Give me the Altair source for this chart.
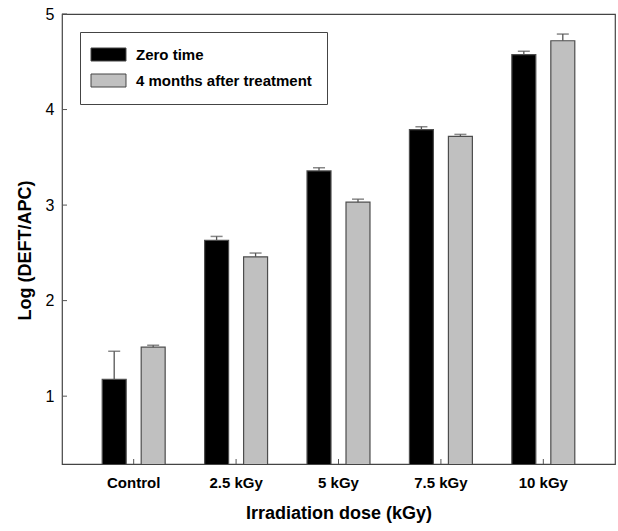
import altair as alt
import pandas as pd

doses = ["Control", "2.5 kGy", "5 kGy", "7.5 kGy", "10 kGy"]
series = ["Zero time", "4 months after treatment"]
zero_time = [1.175, 2.632, 3.358, 3.79, 4.574]
zero_err = [0.295, 0.04, 0.033, 0.03, 0.036]
four_months = [1.513, 2.458, 3.03, 3.72, 4.72]
four_err = [0.02, 0.04, 0.032, 0.02, 0.07]
y_ticks = [1, 2, 3, 4, 5]

rows = []
for i, d in enumerate(doses):
    rows.append({"dose": d, "series": series[0], "value": zero_time[i], "top": zero_time[i] + zero_err[i]})
    rows.append({"dose": d, "series": series[1], "value": four_months[i], "top": four_months[i] + four_err[i]})
df = pd.DataFrame(rows)
cat_df = pd.DataFrame({"dose": doses})
tick_df = pd.DataFrame({"t": y_ticks})

W, H = 553, 450
FONT = "Liberation Sans"

x_scale = alt.Scale(domain=doses, paddingInner=0, paddingOuter=0.2)
y_scale = alt.Scale(domain=[0.29, 5], nice=False, zero=False)
off_scale = alt.Scale(domain=series, paddingInner=0.385, paddingOuter=0.506)

x_enc = alt.X("dose:N", scale=x_scale, sort=doses,
              axis=alt.Axis(title="Irradiation dose (kGy)", labelAngle=0, ticks=False, domain=False,
                            labelFont=FONT, labelFontSize=15, labelFontWeight="bold", labelColor="#000",
                            labelPadding=11, titleFont=FONT, titleFontSize=18, titleFontWeight="bold",
                            titleColor="#000", titlePadding=14))
y_enc = alt.Y("value:Q", scale=y_scale,
              axis=alt.Axis(title="Log (DEFT/APC)", values=y_ticks, format="d", ticks=False, domain=False,
                            grid=False, labelFont=FONT, labelFontSize=16, labelColor="#000", labelPadding=8,
                            titleFont=FONT, titleFontSize=18, titleFontWeight="bold", titleColor="#000",
                            titleX=-37, titleY=236, titleAlign="center", titleBaseline="middle", titleAngle=270))

color = alt.Color("series:N", scale=alt.Scale(domain=series, range=["#000000", "#c0c0c0"]),
                  legend=alt.Legend(title=None, orient="none", legendX=18, legendY=18,
                                    symbolType="M-2.69,-1L2.69,-1L2.69,1L-2.69,1Z", symbolSize=169,
                                    symbolOffset=6, symbolStrokeColor="#444444", symbolStrokeWidth=1,
                                    labelFont=FONT, labelFontSize=15, labelFontWeight="bold", labelColor="#000",
                                    labelLimit=0, labelOffset=20, rowPadding=9, padding=15,
                                    strokeColor="#444444", fillColor="white"))

bars = alt.Chart(df).mark_bar(stroke="#4d4d4d", strokeWidth=1.2, clip=True).encode(
    x=x_enc,
    xOffset=alt.XOffset("series:N", scale=off_scale, sort=series),
    y=y_enc,
    color=color,
)

err_rule = alt.Chart(df).mark_rule(color="#555555", strokeWidth=1.3).encode(
    x=alt.X("dose:N", scale=x_scale, sort=doses),
    xOffset=alt.XOffset("series:N", scale=off_scale, sort=series),
    y=alt.Y("value:Q", scale=y_scale),
    y2="top:Q",
)
err_cap = alt.Chart(df).mark_tick(color="#555555", thickness=1.5, size=12).encode(
    x=alt.X("dose:N", scale=x_scale, sort=doses),
    xOffset=alt.XOffset("series:N", scale=off_scale, sort=series),
    y=alt.Y("top:Q", scale=y_scale),
)

x_ticks = alt.Chart(cat_df).mark_rule(color="#555555", strokeWidth=1).encode(
    x=alt.X("dose:N", scale=x_scale, sort=doses),
    y=alt.value(H - 5),
    y2=alt.value(H),
)
y_tick_marks = alt.Chart(tick_df).mark_rule(color="#555555", strokeWidth=1).encode(
    y=alt.Y("t:Q", scale=y_scale),
    x=alt.value(0),
    x2=alt.value(5),
)

chart = alt.layer(bars, err_rule, err_cap, x_ticks, y_tick_marks).properties(
    width=W, height=H,
    autosize=alt.AutoSizeParams(type="none"),
    padding={"left": 62, "top": 14, "right": 3, "bottom": 67},
    background="white",
).configure_view(stroke="#444444", strokeWidth=1.2)

chart.save("out.html", embed_options={"renderer": "svg", "actions": False})
